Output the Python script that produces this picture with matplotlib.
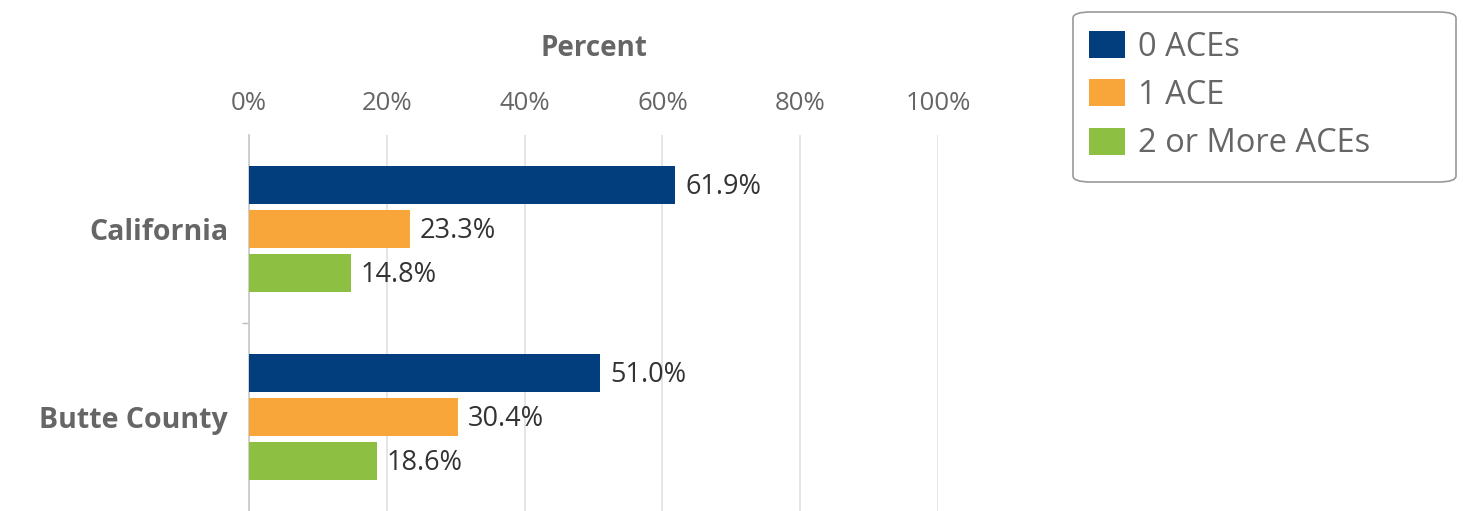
import numpy as np
import matplotlib.pyplot as plt
from matplotlib.patches import FancyBboxPatch
from matplotlib.ticker import FixedLocator

plt.rcParams['font.family'] = ['Open Sans', 'DejaVu Sans']

categories = ['California', 'Butte County']
series_names = ['0 ACEs', '1 ACE', '2 or More ACEs']
zero_aces = [61.9, 51.0]
one_ace = [23.3, 30.4]
two_plus = [14.8, 18.6]
x_ticks = [0, 20, 40, 60, 80, 100]

colors = ['#023e7d', '#f8a63a', '#8dbf42']
gray = '#666666'

W, H = 1463, 511
fig = plt.figure(figsize=(W / 100, H / 100), dpi=100)
ax = fig.add_axes([249 / W, 0.0, (938 - 249) / W, 1 - 135 / H])

y = np.arange(len(categories))
bar_h = 0.202
offsets = [-0.232, 0.0, 0.236]
handles = []
for vals, off, col, name in zip([zero_aces, one_ace, two_plus], offsets, colors, series_names):
    bars = ax.barh(y + off, vals, height=bar_h, color=col, label=name, zorder=3)
    handles.append(bars)
    for b, v in zip(bars, vals):
        ax.text(v + 1.4, b.get_y() + b.get_height() / 2 + 0.01, f'{v:.1f}%',
                va='center', ha='left', fontsize=19.5, color='#333333', zorder=4)

ax.set_xlim(0, 100)
ax.set_ylim(1.5, -0.5)
ax.xaxis.tick_top()
ax.xaxis.set_label_position('top')
ax.set_xticks(x_ticks)
ax.set_xticklabels([f'{t}%' for t in x_ticks], fontsize=18.5, color=gray)
ax.tick_params(axis='x', length=0, pad=14)
ax.set_xlabel('Percent', fontsize=20, fontweight='bold', color=gray, labelpad=25)

ax.set_yticks(y)
ax.set_yticklabels(categories, fontsize=20.5, fontweight='bold', color=gray)
ax.tick_params(axis='y', length=0, pad=15)
ax.yaxis.set_minor_locator(FixedLocator([0.5]))
ax.tick_params(axis='y', which='minor', length=5, color='#bbbbbb', width=1)

ax.grid(axis='x', color='#e0e0e0', linewidth=1.2, zorder=0)
for s in ['top', 'right', 'bottom']:
    ax.spines[s].set_visible(False)
ax.spines['left'].set_color('#c8c8c8')
ax.spines['left'].set_linewidth(1.2)

# legend box (fixed width like the original)
box = FancyBboxPatch((1073 / W, 1 - 182 / H), (1456 - 1073) / W, (182 - 12) / H,
                     boxstyle='round,pad=0,rounding_size=0.012',
                     transform=fig.transFigure, facecolor='white',
                     edgecolor='#999999', linewidth=1.2)
fig.patches.append(box)

leg = fig.legend(handles=handles, labels=series_names, loc='upper left',
                 bbox_to_anchor=(1079 / W, 1 - 21 / H), frameon=False,
                 fontsize=23.5, handlelength=1.1, handleheight=0.9,
                 labelspacing=0.47, borderpad=0.3, handletextpad=0.4,
                 borderaxespad=0, labelcolor=gray)

fig.savefig('out.png', dpi=100)
